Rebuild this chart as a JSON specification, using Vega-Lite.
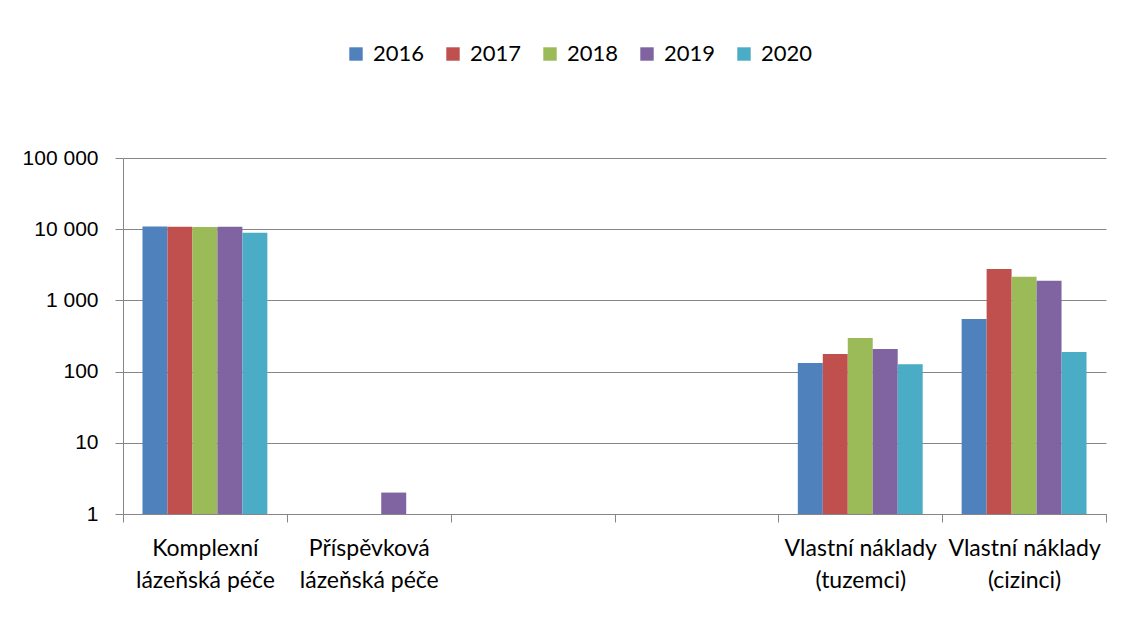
{
  "$schema": "https://vega.github.io/schema/vega-lite/v6.json",
  "autosize": "none",
  "width": 983,
  "height": 356,
  "padding": {"left": 123, "top": 158, "right": 23, "bottom": 107},
  "background": "white",
  "config": {"view": {"stroke": null}},
  "data": {
    "values": [
      {"kat": "K", "rok": "2016", "hodnota": 10900},
      {"kat": "K", "rok": "2017", "hodnota": 10800},
      {"kat": "K", "rok": "2018", "hodnota": 10700},
      {"kat": "K", "rok": "2019", "hodnota": 10800},
      {"kat": "K", "rok": "2020", "hodnota": 8900},
      {"kat": "P", "rok": "2019", "hodnota": 2},
      {"kat": "T", "rok": "2016", "hodnota": 132},
      {"kat": "T", "rok": "2017", "hodnota": 176},
      {"kat": "T", "rok": "2018", "hodnota": 296},
      {"kat": "T", "rok": "2019", "hodnota": 207},
      {"kat": "T", "rok": "2020", "hodnota": 127},
      {"kat": "C", "rok": "2016", "hodnota": 547},
      {"kat": "C", "rok": "2017", "hodnota": 2760},
      {"kat": "C", "rok": "2018", "hodnota": 2150},
      {"kat": "C", "rok": "2019", "hodnota": 1890},
      {"kat": "C", "rok": "2020", "hodnota": 188}
    ]
  },
  "layer": [
    {
      "mark": {"type": "bar"},
      "encoding": {
        "x": {
          "field": "kat",
          "type": "nominal",
          "sort": null,
          "scale": {
            "domain": ["K", "P", "E3", "E4", "T", "C"],
            "paddingInner": 0,
            "paddingOuter": 0
          },
          "axis": {
            "title": null,
            "orient": "bottom",
            "labelAngle": 0,
            "labelExpr": "datum.label == 'K' ? 'Komplexní' : datum.label == 'P' ? 'Příspěvková' : datum.label == 'T' ? 'Vlastní náklady' : datum.label == 'C' ? 'Vlastní náklady' : ''",
            "labelFont": "Lato",
            "labelFontSize": 23,
            "labelColor": "#000000",
            "labelPadding": 15,
            "labelOverlap": false,
            "labelLimit": 300,
            "labelBaseline": "top",
            "tickBand": "extent",
            "tickSize": 8,
            "tickColor": "#868686",
            "domainColor": "#868686",
            "grid": false
          }
        },
        "xOffset": {
          "field": "rok",
          "type": "nominal",
          "scale": {"domain": ["2016", "2017", "2018", "2019", "2020"], "paddingInner": 0, "paddingOuter": 0.78}
        },
        "y": {
          "field": "hodnota",
          "type": "quantitative",
          "stack": null,
          "scale": {"type": "log", "domain": [1, 100000], "nice": false},
          "axis": {
            "title": null,
            "values": [1, 10, 100, 1000, 10000, 100000],
            "labelExpr": "datum.value == 100000 ? '100 000' : datum.value == 10000 ? '10 000' : datum.value == 1000 ? '1 000' : datum.value == 100 ? '100' : datum.value == 10 ? '10' : '1'",
            "labelFont": "Liberation Sans",
            "labelFontSize": 21,
            "labelColor": "#000000",
            "labelPadding": 17,
            "tickSize": 8,
            "tickColor": "#868686",
            "domainColor": "#868686",
            "gridColor": "#868686",
            "gridWidth": 1
          }
        },
        "y2": {"datum": 1},
        "color": {
          "field": "rok",
          "type": "nominal",
          "scale": {"domain": ["2016", "2017", "2018", "2019", "2020"], "range": ["#4F81BD", "#C0504D", "#9BBB59", "#8064A2", "#4BACC6"]},
          "legend": {
            "title": null,
            "orient": "none",
            "direction": "horizontal",
            "legendX": 222,
            "legendY": -115,
            "symbolType": "square",
            "symbolSize": 180,
            "labelFont": "Lato",
            "labelFontSize": 22,
            "labelColor": "#000000",
            "columnPadding": 17,
            "labelOffset": 6
          }
        }
      }
    },
    {
      "mark": {"type": "bar", "opacity": 0},
      "encoding": {
        "x": {
          "field": "kat",
          "type": "nominal",
          "sort": null,
          "axis": {
            "title": null,
            "orient": "bottom",
            "labelAngle": 0,
            "labelExpr": "datum.label == 'K' ? 'lázeňská péče' : datum.label == 'P' ? 'lázeňská péče' : datum.label == 'T' ? '(tuzemci)' : datum.label == 'C' ? '(cizinci)' : ''",
            "labelFont": "Lato",
            "labelFontSize": 23,
            "labelColor": "#000000",
            "labelPadding": 47,
            "labelOverlap": false,
            "labelLimit": 300,
            "labelBaseline": "top",
            "tickBand": "extent",
            "tickSize": 8,
            "tickOpacity": 0,
            "domain": false,
            "grid": false
          }
        },
        "y": {"field": "hodnota", "type": "quantitative", "stack": null},
        "y2": {"datum": 1}
      }
    }
  ],
  "resolve": {"axis": {"x": "independent"}}
}
